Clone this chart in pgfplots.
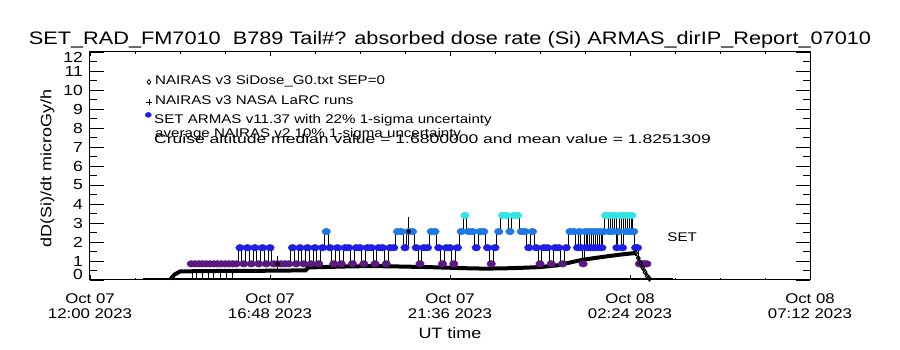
\documentclass[border=0pt]{standalone}
\usepackage{pgfplots}
\usepackage{pgfplotstable}
\usepackage{graphicx}
\pgfplotsset{compat=1.18}
\usepackage{fontspec}
\setmainfont{Liberation Sans}[FakeStretch=1.2]
\definecolor{setB}{RGB}{30,30,232}
\newcommand\ttl{\fontsize{18.1}{20}\selectfont}
\newcommand\lgd{\fontsize{12.6}{14}\selectfont}
\newcommand\axl{\fontsize{15}{16}\selectfont}
% SET ARMAS dose rate (hours after Oct 07 12:00 UT, microGy/h)
\pgfplotstableread{
h v
2.7 0.85
2.8 0.85
2.9 0.85
3.0 0.85
3.1 0.85
3.2 0.85
3.3 0.85
3.4 0.85
3.5 0.85
3.6 0.85
3.7 0.85
3.8 0.85
3.9 0.85
4.0 1.70
4.1 0.85
4.2 1.70
4.3 0.85
4.4 1.70
4.5 0.85
4.6 1.70
4.7 0.85
4.8 1.70
4.9 0.85
5.0 0.85
5.1 0.85
5.2 0.85
5.3 0.85
5.4 1.70
5.5 0.85
5.6 1.70
5.7 0.85
5.8 1.70
5.9 0.85
6.0 1.70
6.1 0.85
6.2 1.70
6.3 2.55
6.4 1.70
6.5 0.85
6.6 1.70
6.7 0.85
6.8 1.70
6.9 1.70
7.0 0.85
7.1 1.70
7.2 1.70
7.3 0.85
7.4 1.70
7.5 1.70
7.6 0.85
7.7 1.70
7.8 1.70
7.9 0.85
8.0 1.70
8.1 1.70
8.2 2.55
8.3 2.55
8.4 1.70
8.5 2.55
8.6 2.55
8.7 1.70
8.8 0.85
8.9 1.70
9.0 1.70
9.1 2.55
9.2 2.55
9.3 1.70
9.4 0.85
9.5 1.70
9.6 1.70
9.7 0.85
9.8 1.70
9.9 2.55
10.0 3.40
10.1 2.55
10.2 2.55
10.3 1.70
10.4 2.55
10.5 2.55
10.6 1.70
10.7 0.85
10.8 1.70
10.9 2.55
11.0 3.40
11.1 3.40
11.2 2.55
11.3 3.40
11.4 3.40
11.5 2.55
11.6 2.55
11.7 1.70
11.8 2.55
11.9 1.70
12.0 0.85
12.1 1.70
12.2 1.70
12.3 0.85
12.4 1.70
12.5 1.70
12.6 0.85
12.7 1.70
12.8 2.55
12.9 2.55
13.00 1.70
13.05 2.55
13.10 1.70
13.15 0.85
13.20 2.55
13.25 1.70
13.30 2.55
13.35 1.70
13.40 2.55
13.45 1.70
13.50 2.55
13.55 1.70
13.60 2.55
13.65 1.70
13.70 2.55
13.75 3.40
13.80 3.40
13.85 2.55
13.90 3.40
13.95 2.55
14.00 3.40
14.05 1.70
14.10 2.55
14.15 3.40
14.20 1.70
14.25 3.40
14.30 2.55
14.35 3.40
14.40 2.55
14.45 3.40
14.50 2.55
14.55 1.70
14.60 1.70
14.65 0.85
14.70 0.85
14.75 0.85
14.80 0.85
14.85 0.85
}\setdata
% NAIRAS model curve
\pgfplotstableread{
h v
2.15 0.06
2.25 0.28
2.40 0.45
3.00 0.47
4.00 0.48
5.00 0.49
5.75 0.51
5.82 0.66
6.40 0.69
7.00 0.72
7.50 0.73
8.00 0.72
8.50 0.70
9.00 0.68
9.50 0.65
10.00 0.62
10.50 0.60
11.00 0.61
11.50 0.64
12.00 0.68
12.50 0.78
12.80 0.92
13.10 1.05
13.40 1.14
13.80 1.25
14.20 1.35
14.55 1.42
}\nairas
\begin{document}
\begin{tikzpicture}
\begin{axis}[
  at={(0pt,0pt)}, anchor=south west,
  scale only axis, width=720pt, height=228pt,
  xmin=0, xmax=19.2, ymin=0, ymax=12,
  clip=false,
  axis line style={black, line width=1pt},
  xtick={0,4.8,9.6,14.4,19.2},
  xticklabels={{Oct 07\\12:00 2023},{Oct 07\\16:48 2023},{Oct 07\\21:36 2023},{Oct 08\\02:24 2023},{Oct 08\\07:12 2023}},
  minor x tick num=3,
  ytick={0,1,2,3,4,5,6,7,8,9,10,11,12},
  yticklabels={\raisebox{0.8pt}[0pt][0pt]{0},1,2,3,4,5,6,7,8,9,10,11,\raisebox{-10.3pt}[0pt][0pt]{12}},
  minor y tick num=1,
  tick align=inside,
  every tick/.style={black, line width=0.9pt},
  every major x tick/.append style={/pgfplots/major tick length=4.5pt},
  every minor x tick/.append style={/pgfplots/minor tick length=2.3pt},
  every major y tick/.append style={/pgfplots/major tick length=14.4pt},
  every minor y tick/.append style={/pgfplots/minor tick length=7.2pt},
  xticklabel style={align=center, font=\fontsize{14}{14.5}\selectfont, inner sep=0pt, yshift=-14pt},
  yticklabel style={font=\fontsize{14.6}{15}\selectfont, inner sep=0pt, xshift=-7pt},
  colormap={setcm}{rgb255=(90,24,130) rgb255=(30,30,232) rgb255=(30,120,230) rgb255=(50,228,228)},
  point meta min=0.85, point meta max=3.4,
]
% NAIRAS v3 LaRC runs near zero
\addplot[black, line width=2.3pt] coordinates {(1.41,0.07) (15.55,0.07)};
\addplot[black, ycomb, line width=0.8pt] coordinates {(2.72,0.45) (2.85,0.45) (2.99,0.45) (3.15,0.45) (3.28,0.45) (3.47,0.45) (3.65,0.45) (3.79,0.45)};
% SET ARMAS connecting line and symbols
\addplot[black, line width=0.8pt, const plot mark mid] table[x=h,y=v] {\setdata};
\addplot[scatter, only marks, mark=*, mark size=3.3pt, mark options={xscale=1.3},
  point meta=\thisrow{v},
  scatter/use mapped color={draw=mapped color, fill=mapped color}] table[x=h,y=v] {\setdata};
% 22% uncertainty bars
\addplot[black, only marks, mark=none, error bars/.cd, y dir=both, y explicit,
  error bar style={line width=0.9pt, black},
  error mark options={black, line width=0.9pt, mark size=4pt}]
  coordinates {(5.0,0.85) +- (0,0.19) (8.5,2.55) +- (0,0.56)};
% NAIRAS SiDose curve
\addplot[black, line width=4pt] table[x=h,y=v] {\nairas};
\addplot[black, line width=1pt, mark=diamond, mark size=2.5pt] coordinates {(14.55,1.42) (14.62,1.15) (14.68,0.9) (14.74,0.65) (14.80,0.42) (14.86,0.2) (14.92,0.07)};
% legend symbols
\addplot[black, only marks, mark=diamond, mark size=2.5pt, line width=0.8pt] coordinates {(1.573,10.42)};
\addplot[black, only marks, mark=+, mark size=3pt, line width=0.9pt] coordinates {(1.573,9.36)};
\addplot[setB, only marks, mark=*, mark size=2.5pt, mark options={xscale=1.25}] coordinates {(1.555,8.69)};
% legend texts
\node[anchor=base west, inner sep=0pt, font=\lgd] at (axis cs:1.733,10.28) {NAIRAS v3 SiDose\_G0.txt SEP=0};
\node[anchor=base west, inner sep=0pt, font=\lgd] at (axis cs:1.733,9.23) {NAIRAS v3 NASA LaRC runs};
\node[anchor=base west, inner sep=0pt, font=\lgd] at (axis cs:1.707,8.22) {SET ARMAS v11.37 with 22\% 1-sigma uncertainty};
\node[anchor=base west, inner sep=0pt, font=\lgd] at (axis cs:1.733,7.49) {average NAIRAS v2 10\% 1-sigma uncertainty};
\node[anchor=base west, inner sep=0pt, font=\lgd] at (axis cs:1.707,7.2) {\scalebox{1.16}[1]{Cruise altitude median value = 1.6800000 and mean value = 1.8251309}};
\node[anchor=center, inner sep=0pt, font=\lgd] at (axis cs:15.79,2.26) {SET};
% title and axis labels
\node[anchor=base, inner sep=0pt, font=\ttl] at (axis cs:9.6,12.37) {SET\_RAD\_FM7010\ \ B789 Tail\#? absorbed dose rate (Si) ARMAS\_dirIP\_Report\_07010};
\node[anchor=base, inner sep=0pt, font=\axl] at (axis cs:9.6,-3.1) {UT time};
\node[rotate=90, anchor=center, inner sep=0pt, font=\axl] at (rel axis cs:-0.059,0.49) {dD(Si)/dt microGy/h};
\end{axis}
\pgfresetboundingbox
\path[use as bounding box] (-90pt,-70pt) rectangle (810pt,280pt);
\end{tikzpicture}
\end{document}
